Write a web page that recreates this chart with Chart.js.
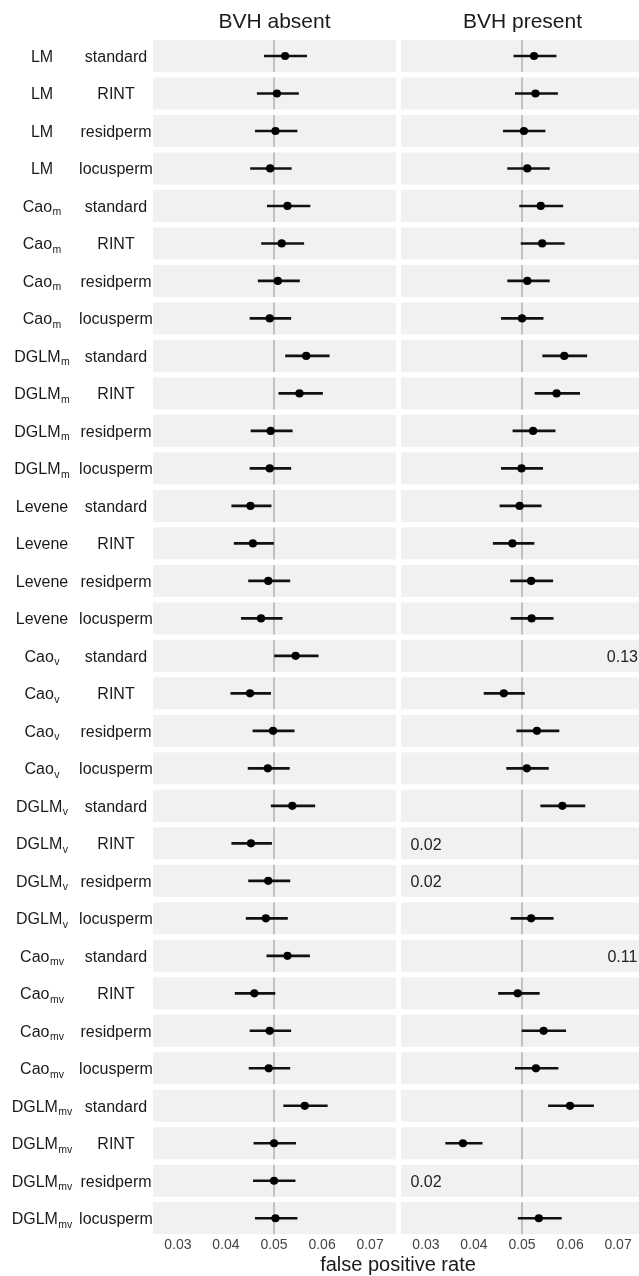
<!DOCTYPE html>
<html>
<head>
<meta charset="utf-8">
<script src="https://cdn.jsdelivr.net/npm/chart.js@4.4.0/dist/chart.umd.min.js"></script>
<style>
  body { margin: 0; width: 639px; height: 1276px; overflow: hidden; background: #fff; position: relative;
         font-family: 'Liberation Sans', Arial, sans-serif; }
  #p1 { position: absolute; left: 0; top: 0; width: 396px; height: 1276px; }
  #p2 { position: absolute; left: 401px; top: 0; width: 243px; height: 1276px; }
  #xtitle { position: absolute; left: 153px; width: 490px; top: 1253px; text-align: center;
            font-size: 20px; line-height: 22px; color: #1a1a1a; }
</style>
</head>
<body>
<div id="p1"><canvas id="c1"></canvas></div>
<div id="p2"><canvas id="c2"></canvas></div>
<div id="xtitle">false positive rate</div>
<script>
// methods (with subscript after "_") and variants, one row per pair
var methods = ["LM", "Cao_m", "DGLM_m", "Levene", "Cao_v", "DGLM_v", "Cao_mv", "DGLM_mv"];
var variants = ["standard", "RINT", "residperm", "locusperm"];
var panels = ["BVH absent", "BVH present"];
var xTicks = [0.03, 0.04, 0.05, 0.06, 0.07];

var absentEst = [0.0523, 0.0506, 0.0503, 0.0492, 0.0528, 0.0516, 0.0508, 0.0491,
                 0.0567, 0.0553, 0.0493, 0.0491, 0.0451, 0.0456, 0.0488, 0.0473,
                 0.0545, 0.0450, 0.0498, 0.0487, 0.0538, 0.0452, 0.0488, 0.0483,
                 0.0528, 0.0459, 0.0491, 0.0489, 0.0564, 0.0500, 0.0500, 0.0503];
var absentLo = [0.0480, 0.0465, 0.0461, 0.0451, 0.0486, 0.0474, 0.0467, 0.0450,
                0.0524, 0.0510, 0.0452, 0.0450, 0.0412, 0.0417, 0.0447, 0.0432,
                0.0501, 0.0410, 0.0456, 0.0446, 0.0494, 0.0412, 0.0447, 0.0442,
                0.0485, 0.0419, 0.0450, 0.0448, 0.0520, 0.0458, 0.0457, 0.0461];
var absentHi = [0.0568, 0.0551, 0.0548, 0.0536, 0.0575, 0.0562, 0.0553, 0.0535,
                0.0615, 0.0601, 0.0538, 0.0535, 0.0494, 0.0499, 0.0533, 0.0517,
                0.0592, 0.0493, 0.0542, 0.0532, 0.0585, 0.0495, 0.0533, 0.0528,
                0.0574, 0.0502, 0.0535, 0.0533, 0.0611, 0.0545, 0.0544, 0.0548];

var presentEst = [0.0525, 0.0528, 0.0504, 0.0511, 0.0539, 0.0542, 0.0511, 0.0500,
                  0.0588, 0.0572, 0.0523, 0.0499, 0.0495, 0.0480, 0.0519, 0.0520,
                  null, 0.0462, 0.0531, 0.0510, 0.0584, null, null, 0.0519,
                  null, 0.0491, 0.0545, 0.0529, 0.0600, 0.0377, null, 0.0535];
var presentLo = [0.0483, 0.0486, 0.0461, 0.0470, 0.0495, 0.0498, 0.0470, 0.0457,
                 0.0543, 0.0527, 0.0481, 0.0457, 0.0454, 0.0440, 0.0476, 0.0477,
                 null, 0.0421, 0.0489, 0.0468, 0.0539, null, null, 0.0477,
                 null, 0.0451, 0.0500, 0.0486, 0.0555, 0.0341, null, 0.0492];
var presentHi = [0.0571, 0.0574, 0.0548, 0.0557, 0.0585, 0.0588, 0.0557, 0.0544,
                 0.0635, 0.0620, 0.0569, 0.0543, 0.0540, 0.0525, 0.0564, 0.0565,
                 null, 0.0505, 0.0577, 0.0555, 0.0631, null, null, 0.0565,
                 null, 0.0536, 0.0591, 0.0575, 0.0649, 0.0417, null, 0.0582];
// off-scale estimates, printed as text instead of a point
var presentOff = [null, null, null, null, null, null, null, null,
                  null, null, null, null, null, null, null, null,
                  0.13, null, null, null, null, 0.02, 0.02, null,
                  0.11, null, null, null, null, null, 0.02, null];
var absentOff = absentEst.map(function () { return null; });

var rows = [];
methods.forEach(function (m) {
  variants.forEach(function (v) { rows.push(m + "|" + v); });
});

var FONT = "'Liberation Sans', Arial, sans-serif";
Chart.defaults.font.family = FONT;

var facet = {
  id: 'facet',
  beforeDatasetsDraw: function (chart, args, opts) {
    var ctx = chart.ctx, area = chart.chartArea, x = chart.scales.x, y = chart.scales.y;
    var pitch = y.getPixelForValue(1) - y.getPixelForValue(0);
    var h = pitch - 5.5;
    var xr = x.getPixelForValue(0.05);
    ctx.save();
    rows.forEach(function (r, i) {
      var yc = y.getPixelForValue(i);
      ctx.fillStyle = '#f1f1f1';
      ctx.fillRect(area.left, yc - h / 2, area.right - area.left, h);
      ctx.strokeStyle = '#b5b5b5';
      ctx.lineWidth = 1.6;
      ctx.beginPath();
      ctx.moveTo(xr, yc - h / 2);
      ctx.lineTo(xr, yc + h / 2);
      ctx.stroke();
    });
    ctx.restore();
  },
  afterDraw: function (chart, args, opts) {
    var ctx = chart.ctx, area = chart.chartArea, x = chart.scales.x, y = chart.scales.y;
    ctx.save();
    ctx.fillStyle = '#1a1a1a';
    ctx.textAlign = 'center';
    ctx.textBaseline = 'alphabetic';
    ctx.font = '21px ' + FONT;
    ctx.fillText(opts.title, (area.left + area.right) / 2, 28);

    // notes for values off the scale
    ctx.font = '16px ' + FONT;
    ctx.fillStyle = '#222';
    opts.off.forEach(function (v, i) {
      if (v == null) return;
      var px = x.getPixelForValue(v > 0.05 ? 0.0709 : 0.03);
      ctx.fillText(v.toFixed(2), px, y.getPixelForValue(i) + 6.5);
    });

    if (opts.labels) {
      ctx.fillStyle = '#1a1a1a';
      rows.forEach(function (r, i) {
        var yb = y.getPixelForValue(i) + 6;
        var parts = r.split("|");
        var name = parts[0].split("_");
        ctx.font = '16px ' + FONT;
        var w1 = ctx.measureText(name[0]).width;
        var w2 = 0;
        if (name[1]) { ctx.font = '10.5px ' + FONT; w2 = ctx.measureText(name[1]).width + 0.5; }
        var x0 = 42 - (w1 + w2) / 2;
        ctx.textAlign = 'left';
        ctx.font = '16px ' + FONT;
        ctx.fillText(name[0], x0, yb);
        if (name[1]) {
          ctx.font = '10.5px ' + FONT;
          ctx.fillText(name[1], x0 + w1 + 0.5, yb + 3.5);
        }
        ctx.textAlign = 'center';
        ctx.font = '16px ' + FONT;
        ctx.fillText(parts[1], 116, yb);
      });
    }
    ctx.restore();
  }
};

function makeChart(id, title, est, lo, hi, off, padLeft, showLabels) {
  var bars = lo.map(function (v, i) { return v == null ? null : [v, hi[i]]; });
  return new Chart(document.getElementById(id), {
    type: 'bar',
    data: {
      labels: rows,
      datasets: [
        {
          type: 'bar',
          data: bars,
          backgroundColor: '#111',
          borderWidth: 0,
          barThickness: 2,
          grouped: false,
          order: 2
        },
        {
          type: 'line',
          data: est,
          showLine: false,
          pointRadius: 4.1,
          pointHoverRadius: 4.1,
          pointBackgroundColor: '#000',
          pointBorderWidth: 0,
          order: 1
        }
      ]
    },
    options: {
      indexAxis: 'y',
      responsive: true,
      maintainAspectRatio: false,
      animation: false,
      events: [],
      layout: { autoPadding: false, padding: { left: padLeft, right: 0, top: 37.25, bottom: 22.2 } },
      scales: {
        x: {
          type: 'linear',
          min: 0.0248,
          max: 0.0754,
          afterBuildTicks: function (s) { s.ticks = xTicks.map(function (v) { return { value: v }; }); },
          ticks: {
            autoSkip: false,
            maxRotation: 0,
            padding: 0,
            font: { size: 14 },
            color: '#444',
            callback: function (v) { return Number(v).toFixed(2); }
          },
          grid: { display: false, drawTicks: false },
          border: { display: false }
        },
        y: {
          type: 'category',
          offset: true,
          display: false,
          grid: { display: false }
        }
      },
      plugins: {
        legend: { display: false },
        tooltip: { enabled: false },
        facet: { title: title, off: off, labels: showLabels }
      }
    },
    plugins: [facet]
  });
}

makeChart('c1', panels[0], absentEst, absentLo, absentHi, absentOff, 153, true);
makeChart('c2', panels[1], presentEst, presentLo, presentHi, presentOff, 0, false);
</script>
</body>
</html>
